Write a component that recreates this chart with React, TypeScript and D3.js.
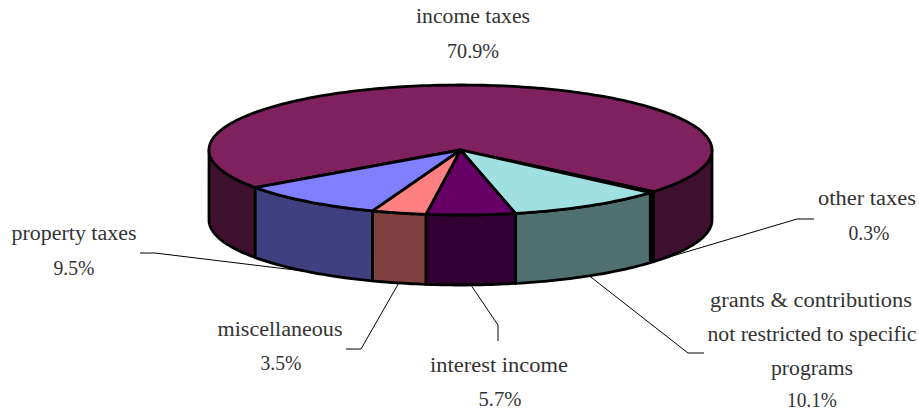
import React from "react";
import * as d3 from "d3";

const categories = ["income taxes", "other taxes", "grants", "interest income", "miscellaneous", "property taxes"];
const values = [70.9, 0.3, 10.1, 5.7, 3.5, 9.5];
const topColors = ["#7f215f", "#000000", "#a0e0e0", "#660066", "#ff8080", "#8080ff"];
const sideColors = ["#40102f", "#000000", "#507070", "#330033", "#804040", "#404080"];

// label layout: text lines [text, centre x, baseline, width]
const labelLines: [string, number, number, number][][] = [
  [["income taxes", 473, 23, 114], ["70.9%", 473, 58, 52]],
  [["other taxes", 867, 205, 98], ["0.3%", 869, 240, 41]],
  [["grants & contributions", 811, 307, 202], ["not restricted to specific", 812, 341, 209], ["programs", 812, 375, 82], ["10.1%", 812, 407, 50]],
  [["interest income", 499, 372, 138], ["5.7%", 500, 406, 43]],
  [["miscellaneous", 280, 336, 125], ["3.5%", 281, 370, 41]],
  [["property taxes", 74, 240, 125], ["9.5%", 74, 275, 41]],
];
// leader elbow and end points
const leaders: [number, number, number, number][] = [
  [0, 0, 0, 0],
  [797, 219, 814, 219],
  [688, 353, 704, 353],
  [498, 325, 498, 341],
  [361, 349, 346, 349],
  [155, 253, 140, 253],
];

const W = 919, H = 410;
const cx = 460.5, cy = 150, rx = 251.5, ry = 65, depth = 70;
const startDeg = 234.7;

const pie = d3.pie<number>().sort(null)
  .startAngle((startDeg * Math.PI) / 180)
  .endAngle(((startDeg + 360) * Math.PI) / 180);
const arcs = pie(values);

const px = (a: number) => cx + rx * Math.sin(a);
const py = (a: number, dz = 0) => cy - ry * Math.cos(a) + dz;
const line = d3.line<[number, number]>();

function samples(a0: number, a1: number): number[] {
  const n = Math.max(2, Math.ceil(Math.abs(a1 - a0) / 0.02));
  return d3.range(n + 1).map((i) => a0 + ((a1 - a0) * i) / n);
}

function topPath(a0: number, a1: number) {
  const pts: [number, number][] = [[cx, cy], ...samples(a0, a1).map((a) => [px(a), py(a)] as [number, number])];
  return line(pts) + "Z";
}

// visible wall of a slice: the part of its angular span facing the viewer
function sidePaths(a0: number, a1: number): string[] {
  const out: string[] = [];
  for (const k of [0, 1]) {
    const lo = Math.max(a0, Math.PI / 2 + k * 2 * Math.PI);
    const hi = Math.min(a1, (3 * Math.PI) / 2 + k * 2 * Math.PI);
    if (hi > lo) {
      const s = samples(lo, hi);
      const pts: [number, number][] = [
        ...s.map((a) => [px(a), py(a)] as [number, number]),
        ...s.slice().reverse().map((a) => [px(a), py(a, depth)] as [number, number]),
      ];
      out.push(line(pts) + "Z");
    }
  }
  return out;
}

export default function App() {
  return (
    <svg width={W} height={H} viewBox={`0 0 ${W} ${H}`} style={{ position: "absolute", left: 0, top: 0, background: "#fff" }}>
      {arcs.map((d, i) => {
        const [ex, ey, fx, fy] = leaders[i];
        if (!fx) return null;
        const mid = (d.startAngle + d.endAngle) / 2;
        return (
          <path key={i} d={line([[px(mid), py(mid, depth)], [ex, ey], [fx, fy]])!} fill="none" stroke="#000" strokeWidth={1} />
        );
      })}
      {arcs.map((d, i) =>
        sidePaths(d.startAngle, d.endAngle).map((p, j) => (
          <path key={`s${i}-${j}`} d={p} fill={sideColors[i]} stroke="#000" strokeWidth={2.8} strokeLinejoin="round" />
        ))
      )}
      {arcs.map((d, i) => (
        <path key={`t${i}`} d={topPath(d.startAngle, d.endAngle)} fill={topColors[i]} stroke="#000" strokeWidth={2.8} strokeLinejoin="round" />
      ))}
      {labelLines.map((lines, i) => (
        <g key={categories[i]} fontFamily="'Liberation Serif', serif" fontSize={20} fill="#333" textAnchor="middle">
          {lines.map(([t, x, y, w], j) => (
            <text key={j} x={x} y={y} textLength={w} lengthAdjust="spacingAndGlyphs">{t}</text>
          ))}
        </g>
      ))}
    </svg>
  );
}
